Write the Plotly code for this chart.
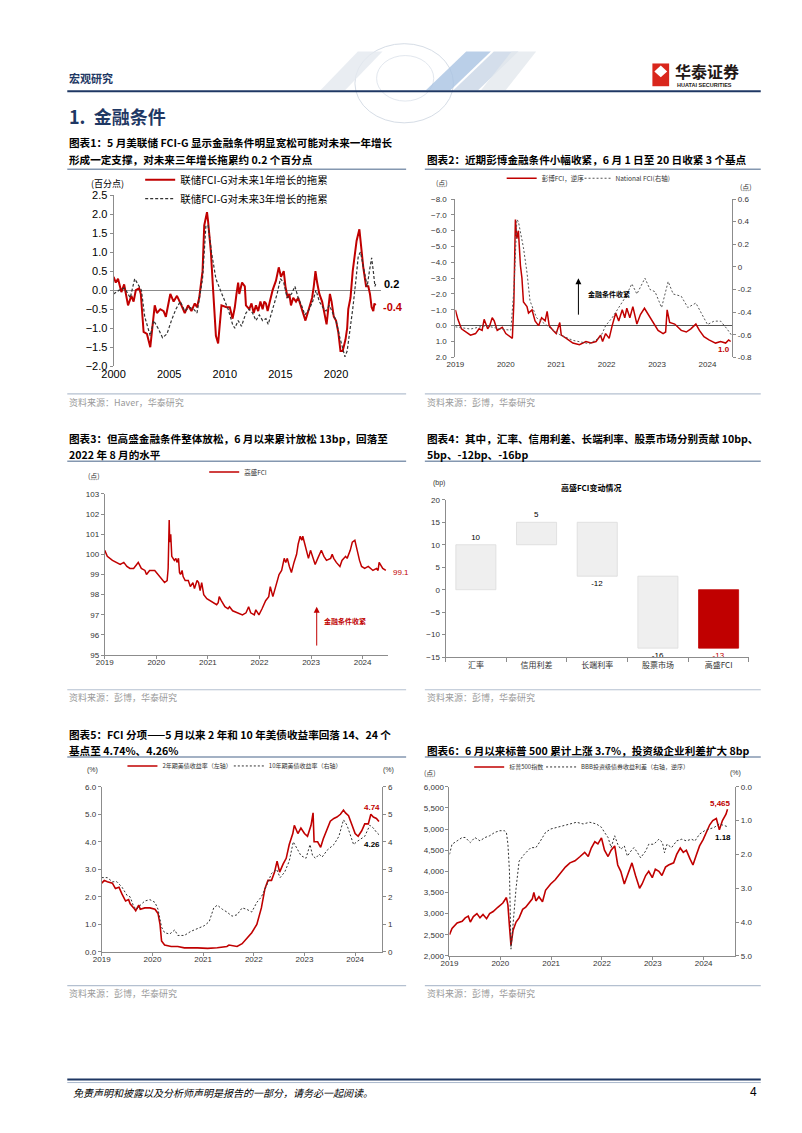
import plotly.graph_objects as go

W, H = 802, 1133
def px(x): return x / W
def py(y): return 1 - y / H

FONT = "Arial, Liberation Sans, Noto Sans CJK SC, sans-serif"
CJK = "Noto Sans CJK SC, Arial, sans-serif"
RED = "#c00000"
NAVY = "#1f3864"
GRAY_AX = "#8c8c8c"

# ---------------- data ----------------
# Chart 1: Fed FCI-G drag on growth (percentage points)
fcig_1y = [(2000.0, 0.35), (2000.2, 0.2), (2000.4, 0.3), (2000.7, -0.05), (2000.95, 0.15), (2001.3, -0.4),
           (2001.6, -0.15), (2001.8, -0.3), (2002.0, 0.0), (2002.3, 0.05), (2002.45, -0.1), (2002.7, -1.1),
           (2003.0, -1.15), (2003.15, -1.3), (2003.3, -1.5), (2003.7, -0.4), (2003.9, -0.6), (2004.2, -0.5),
           (2004.5, -0.55), (2004.7, -0.7), (2004.85, -0.5), (2005.1, -0.1), (2005.4, -0.3), (2005.7, -0.15),
           (2006.1, -0.4), (2006.4, -0.6), (2006.7, -0.4), (2007.0, -0.55), (2007.3, -0.35), (2007.5, -0.45),
           (2007.7, -0.2), (2008.0, 0.5), (2008.15, 1.7), (2008.4, 2.05), (2008.5, 1.8), (2008.75, 1.0),
           (2008.95, 0.0), (2009.1, -0.9), (2009.2, -1.2), (2009.4, -1.4), (2009.55, -0.8), (2009.7, -0.4),
           (2010.15, -0.45), (2010.45, -0.45), (2010.7, -0.75), (2010.9, -0.45), (2011.05, -0.1), (2011.2, 0.2),
           (2011.3, -0.1), (2011.55, 0.2), (2011.8, 0.1), (2011.9, -0.4), (2012.2, -0.5), (2012.4, -0.35),
           (2012.6, -0.6), (2012.8, -0.4), (2013.0, -0.55), (2013.2, -0.3), (2013.4, -0.5), (2013.55, -0.3),
           (2013.7, -0.35), (2013.85, -0.55), (2014.05, -0.3), (2014.3, 0.0), (2014.6, 0.25), (2014.85, 0.6),
           (2015.05, 0.35), (2015.3, 0.5), (2015.45, 0.1), (2015.65, -0.2), (2015.8, -0.1), (2015.95, -0.4),
           (2016.15, -0.2), (2016.4, -0.3), (2016.6, -0.2), (2016.8, -0.4), (2017.1, -0.7), (2017.25, -0.8),
           (2017.55, -0.5), (2017.85, -0.2), (2018.0, 0.1), (2018.15, 0.5), (2018.3, 0.2), (2018.5, -0.1),
           (2018.75, -0.3), (2018.9, -0.5), (2019.15, -0.9), (2019.3, -0.5), (2019.45, -0.1), (2019.6, -0.3),
           (2019.8, -0.7), (2020.0, -0.8), (2020.2, -1.1), (2020.4, -1.6), (2020.6, -1.6), (2020.85, -1.3),
           (2021.0, -1.0), (2021.1, -0.5), (2021.3, -0.2), (2021.5, 0.5), (2021.65, 0.9), (2021.85, 1.3),
           (2022.1, 1.6), (2022.3, 0.9), (2022.45, 0.6), (2022.7, 0.1), (2022.9, 0.1), (2023.05, -0.1),
           (2023.2, -0.45), (2023.35, -0.55), (2023.45, -0.35), (2023.55, -0.4)]
fcig_3y = [(2000.0, -0.1), (2000.5, 0.0), (2001.0, 0.05), (2001.5, -0.2), (2001.9, 0.3), (2002.5, 0.0),
           (2002.8, -0.7), (2003.1, -1.0), (2003.3, -1.2), (2003.6, -0.8), (2004.0, -1.0), (2004.4, -1.25),
           (2004.8, -1.15), (2005.2, -0.8), (2005.6, -0.5), (2006.0, -0.3), (2006.4, -0.55), (2006.8, -0.45),
           (2007.2, -0.5), (2007.5, -0.6), (2007.7, -0.2), (2008.0, 0.3), (2008.3, 1.7), (2008.5, 1.7),
           (2008.8, 1.0), (2009.2, 0.3), (2009.6, 0.0), (2009.9, -0.2), (2010.3, -0.5), (2010.7, -0.9),
           (2010.9, -1.0), (2011.2, -0.8), (2011.5, -0.95), (2011.9, -0.6), (2012.2, -0.5), (2012.5, -0.6),
           (2012.8, -0.8), (2013.1, -0.65), (2013.4, -0.8), (2013.7, -0.75), (2013.9, -0.9), (2014.3, -0.5),
           (2014.7, -0.1), (2015.0, 0.3), (2015.3, 0.2), (2015.6, -0.2), (2016.0, -0.1), (2016.3, 0.1),
           (2016.6, -0.2), (2016.9, -0.4), (2017.2, -0.65), (2017.6, -0.5), (2017.9, -0.3), (2018.2, 0.0),
           (2018.5, -0.3), (2018.8, -0.45), (2019.1, -0.55), (2019.4, -0.4), (2019.7, -0.6), (2020.0, -0.8),
           (2020.3, -1.2), (2020.6, -1.5), (2020.8, -1.75), (2021.0, -1.6), (2021.2, -1.2), (2021.5, -0.5),
           (2021.8, 0.3), (2022.0, 0.9), (2022.2, 1.0), (2022.4, 0.7), (2022.6, 0.5), (2022.8, 0.1),
           (2023.0, 0.5), (2023.2, 0.85), (2023.35, 0.5), (2023.5, 0.1), (2023.6, 0.2)]
c1_years = [2000, 2005, 2010, 2015, 2020]

# Chart 2: Bloomberg FCI (inverted, left) and National FCI (right)
bbg_fci = [(2019.0, -1.0), (2019.05, -0.4), (2019.12, 0.2), (2019.2, 0.4), (2019.3, 0.6), (2019.4, 0.5),
           (2019.47, 0.2), (2019.53, 0.3), (2019.57, -0.4), (2019.64, 0.2), (2019.68, 0.0), (2019.73, -0.5),
           (2019.77, -0.3), (2019.83, 0.3), (2019.93, 0.1), (2020.0, 0.5), (2020.09, 0.7), (2020.13, 0.8),
           (2020.16, -1.5), (2020.19, -6.7), (2020.22, -5.5), (2020.25, -6.0), (2020.29, -3.8), (2020.32, -3.0),
           (2020.35, -1.5), (2020.42, -1.2), (2020.45, -0.8), (2020.52, -1.0), (2020.58, -0.3), (2020.65, 0.0),
           (2020.71, -0.5), (2020.78, -0.3), (2020.82, -0.9), (2020.86, 0.0), (2020.94, 0.3), (2021.0, 0.5),
           (2021.07, -0.2), (2021.1, 0.6), (2021.2, 0.8), (2021.33, 1.1), (2021.46, 1.2), (2021.59, 1.0),
           (2021.69, 1.1), (2021.79, 1.0), (2021.88, 0.6), (2021.92, 1.0), (2021.98, 0.5), (2022.05, 0.8),
           (2022.11, 0.0), (2022.18, -0.8), (2022.24, -0.3), (2022.31, -1.0), (2022.36, -0.5), (2022.4, -1.1),
           (2022.46, -0.5), (2022.52, -1.2), (2022.6, -0.1), (2022.67, -0.7), (2022.75, -1.1), (2022.83, -0.7),
           (2022.93, -0.2), (2023.02, 0.3), (2023.12, 0.5), (2023.17, 0.4), (2023.2, -1.0), (2023.25, -0.2),
           (2023.35, -0.1), (2023.48, 0.3), (2023.58, 0.4), (2023.67, 0.2), (2023.77, -0.1), (2023.84, 0.3),
           (2023.93, 0.7), (2024.03, 0.9), (2024.16, 1.1), (2024.26, 1.0), (2024.36, 1.1), (2024.42, 0.9),
           (2024.46, 1.0)]
national_fci = [(2019.0, -0.53), (2019.3, -0.55), (2019.6, -0.52), (2019.9, -0.55), (2020.1, -0.56),
                (2020.16, -0.2), (2020.22, 0.42), (2020.25, 0.4), (2020.35, 0.17), (2020.42, -0.05),
                (2020.48, -0.3), (2020.61, -0.45), (2020.88, -0.54), (2021.07, -0.6), (2021.33, -0.65),
                (2021.66, -0.68), (2021.88, -0.62), (2021.98, -0.52), (2022.11, -0.45), (2022.24, -0.36),
                (2022.37, -0.27), (2022.5, -0.15), (2022.6, -0.24), (2022.76, -0.1), (2022.86, -0.2),
                (2022.96, -0.22), (2023.09, -0.36), (2023.22, -0.13), (2023.32, -0.24), (2023.48, -0.26),
                (2023.61, -0.36), (2023.77, -0.32), (2023.87, -0.4), (2024.0, -0.51), (2024.13, -0.48),
                (2024.26, -0.48), (2024.39, -0.55), (2024.47, -0.6)]
nfci_ticks = [0.6, 0.4, 0.2, 0, -0.2, -0.4, -0.6, -0.8]
years_19_24 = [2019, 2020, 2021, 2022, 2023, 2024]

# Chart 3: Goldman Sachs FCI
gs_fci = [(2019.0, 100.2), (2019.05, 99.9), (2019.15, 99.7), (2019.24, 99.6), (2019.3, 99.5), (2019.37, 99.6),
          (2019.43, 99.4), (2019.49, 99.3), (2019.56, 99.3), (2019.62, 99.5), (2019.65, 99.6), (2019.71, 99.3),
          (2019.78, 99.2), (2019.81, 99.0), (2019.87, 99.2), (2019.97, 99.2), (2020.03, 99.0), (2020.09, 98.8),
          (2020.16, 98.6), (2020.21, 98.7), (2020.23, 99.3), (2020.25, 101.7), (2020.26, 100.6), (2020.28, 101.0),
          (2020.3, 99.9), (2020.35, 99.7), (2020.38, 99.8), (2020.4, 99.6), (2020.43, 99.8), (2020.45, 99.1),
          (2020.47, 99.0), (2020.5, 99.2), (2020.52, 98.9), (2020.56, 98.7), (2020.62, 98.7), (2020.66, 98.4),
          (2020.71, 98.6), (2020.74, 98.3), (2020.79, 98.7), (2020.82, 98.6), (2020.85, 98.2), (2020.88, 98.6),
          (2020.92, 98.0), (2020.98, 97.8), (2021.04, 97.7), (2021.1, 97.6), (2021.17, 97.5), (2021.2, 97.6),
          (2021.22, 97.9), (2021.26, 97.7), (2021.33, 97.4), (2021.39, 97.3), (2021.42, 97.4), (2021.48, 97.2),
          (2021.58, 97.1), (2021.67, 97.0), (2021.74, 97.1), (2021.79, 97.4), (2021.83, 97.1), (2021.9, 97.0),
          (2021.93, 97.25), (2021.99, 97.0), (2022.05, 97.3), (2022.12, 97.7), (2022.18, 97.9), (2022.21, 98.4),
          (2022.26, 97.9), (2022.34, 98.6), (2022.38, 99.0), (2022.43, 99.2), (2022.48, 99.8), (2022.51, 99.6),
          (2022.54, 99.8), (2022.58, 99.4), (2022.62, 99.1), (2022.67, 99.6), (2022.72, 100.0), (2022.75, 100.5),
          (2022.79, 100.9), (2022.82, 100.7), (2022.84, 100.9), (2022.87, 100.6), (2022.92, 100.0), (2022.95, 99.8),
          (2022.99, 100.2), (2023.03, 99.9), (2023.08, 99.5), (2023.13, 99.8), (2023.18, 100.1), (2023.2, 100.2),
          (2023.25, 99.9), (2023.3, 99.7), (2023.38, 99.8), (2023.41, 100.0), (2023.44, 99.8), (2023.49, 99.6),
          (2023.56, 99.4), (2023.6, 99.7), (2023.67, 99.9), (2023.7, 99.8), (2023.76, 100.2), (2023.8, 100.6),
          (2023.85, 100.7), (2023.89, 100.2), (2023.94, 99.7), (2023.98, 99.4), (2024.04, 99.3), (2024.11, 99.4),
          (2024.2, 99.2), (2024.27, 99.3), (2024.3, 99.2), (2024.32, 99.6), (2024.36, 99.4), (2024.39, 99.3),
          (2024.45, 99.2)]

# Chart 4: GS FCI change decomposition (bp)
fci_cats = ["汇率", "信用利差", "长端利率", "股票市场", "高盛FCI"]
fci_contrib = [10, 5, -12, -16]
fci_total = -13

# Chart 5: UST 2y / 10y yields (%)
ust_2y = [(2019.0, 2.5), (2019.05, 2.6), (2019.11, 2.55), (2019.21, 2.5), (2019.27, 2.3), (2019.34, 2.35),
          (2019.4, 2.1), (2019.47, 1.85), (2019.53, 1.9), (2019.56, 1.75), (2019.63, 1.6), (2019.67, 1.5),
          (2019.73, 1.7), (2019.76, 1.55), (2019.85, 1.6), (2019.95, 1.6), (2020.05, 1.55), (2020.11, 1.4),
          (2020.15, 1.0), (2020.18, 0.4), (2020.24, 0.25), (2020.37, 0.2), (2020.5, 0.2), (2020.63, 0.15),
          (2020.89, 0.15), (2021.09, 0.13), (2021.28, 0.15), (2021.47, 0.2), (2021.51, 0.25), (2021.67, 0.2),
          (2021.77, 0.3), (2021.86, 0.5), (2021.96, 0.7), (2022.06, 1.0), (2022.12, 1.4), (2022.15, 1.6),
          (2022.22, 2.3), (2022.28, 2.6), (2022.35, 2.6), (2022.41, 2.9), (2022.46, 3.3), (2022.51, 2.9),
          (2022.58, 3.2), (2022.64, 3.4), (2022.7, 3.9), (2022.77, 4.3), (2022.8, 4.6), (2022.87, 4.3),
          (2022.93, 4.5), (2023.0, 4.3), (2023.06, 4.2), (2023.13, 4.6), (2023.17, 5.05), (2023.19, 4.0),
          (2023.26, 4.0), (2023.32, 3.8), (2023.37, 4.1), (2023.45, 4.5), (2023.51, 4.75), (2023.58, 4.85),
          (2023.64, 4.9), (2023.71, 5.0), (2023.77, 5.15), (2023.81, 5.05), (2023.87, 4.95), (2023.94, 4.6),
          (2024.0, 4.3), (2024.06, 4.2), (2024.13, 4.4), (2024.19, 4.65), (2024.26, 4.65), (2024.31, 5.0),
          (2024.36, 4.9), (2024.42, 4.85), (2024.47, 4.74)]
ust_10y = [(2019.0, 2.7), (2019.11, 2.7), (2019.21, 2.55), (2019.3, 2.55), (2019.4, 2.35), (2019.5, 2.05),
           (2019.56, 2.0), (2019.63, 1.65), (2019.69, 1.55), (2019.76, 1.7), (2019.85, 1.85), (2019.95, 1.9),
           (2020.05, 1.8), (2020.11, 1.55), (2020.18, 0.9), (2020.24, 0.7), (2020.34, 0.65), (2020.44, 0.8),
           (2020.5, 0.6), (2020.63, 0.6), (2020.76, 0.75), (2020.89, 0.85), (2021.02, 0.95), (2021.12, 1.1),
           (2021.21, 1.6), (2021.28, 1.7), (2021.38, 1.55), (2021.47, 1.45), (2021.57, 1.3), (2021.67, 1.35),
           (2021.77, 1.6), (2021.86, 1.55), (2021.96, 1.45), (2022.06, 1.8), (2022.15, 2.0), (2022.25, 2.4),
           (2022.35, 2.85), (2022.45, 3.0), (2022.52, 2.7), (2022.61, 2.9), (2022.7, 3.3), (2022.78, 4.0),
           (2022.87, 3.7), (2022.93, 3.5), (2023.03, 3.4), (2023.11, 3.9), (2023.16, 3.5), (2023.22, 3.4),
           (2023.29, 3.55), (2023.35, 3.45), (2023.45, 3.7), (2023.58, 3.9), (2023.68, 4.2), (2023.77, 4.8),
           (2023.84, 4.6), (2023.9, 4.3), (2023.97, 3.9), (2024.03, 4.0), (2024.1, 4.1), (2024.19, 4.2),
           (2024.29, 4.6), (2024.36, 4.5), (2024.42, 4.35), (2024.47, 4.26)]

# Chart 6: S&P 500 (left) and BBB spread (right, inverted)
spx = [(2019.0, 2500), (2019.05, 2650), (2019.15, 2780), (2019.25, 2820), (2019.31, 2900), (2019.37, 2940),
       (2019.41, 2800), (2019.47, 2930), (2019.54, 3000), (2019.6, 2900), (2019.66, 2980), (2019.73, 2880),
       (2019.79, 3000), (2019.86, 3050), (2019.95, 3150), (2020.05, 3250), (2020.12, 3380), (2020.15, 3200),
       (2020.18, 2700), (2020.21, 2250), (2020.25, 2600), (2020.31, 2800), (2020.37, 2900), (2020.44, 3100),
       (2020.5, 3150), (2020.57, 3250), (2020.63, 3350), (2020.66, 3500), (2020.7, 3300), (2020.76, 3400),
       (2020.83, 3280), (2020.89, 3550), (2020.99, 3700), (2021.08, 3800), (2021.18, 3950), (2021.28, 4100),
       (2021.37, 4200), (2021.47, 4250), (2021.57, 4350), (2021.66, 4450), (2021.73, 4350), (2021.79, 4550),
       (2021.86, 4700), (2021.92, 4650), (2021.99, 4790), (2022.05, 4500), (2022.12, 4350), (2022.18, 4500),
       (2022.25, 4600), (2022.31, 4150), (2022.37, 4000), (2022.44, 3700), (2022.5, 3900), (2022.59, 4200),
       (2022.66, 3900), (2022.74, 3600), (2022.79, 3700), (2022.86, 3900), (2022.92, 4000), (2022.99, 3850),
       (2023.05, 4050), (2023.12, 4000), (2023.18, 3900), (2023.25, 4100), (2023.31, 4150), (2023.41, 4200),
       (2023.47, 4400), (2023.54, 4550), (2023.6, 4450), (2023.66, 4500), (2023.73, 4300), (2023.79, 4150),
       (2023.86, 4400), (2023.92, 4600), (2023.99, 4750), (2024.05, 4900), (2024.12, 5100), (2024.18, 5200),
       (2024.25, 5250), (2024.31, 4980), (2024.37, 5200), (2024.44, 5350), (2024.47, 5465)]
bbb_spread = [(2019.0, 2.0), (2019.05, 1.7), (2019.15, 1.6), (2019.25, 1.5), (2019.31, 1.5), (2019.41, 1.65),
              (2019.5, 1.5), (2019.6, 1.6), (2019.7, 1.5), (2019.79, 1.45), (2019.89, 1.35), (2019.99, 1.3),
              (2020.08, 1.3), (2020.12, 1.35), (2020.15, 1.7), (2020.18, 2.5), (2020.21, 4.8), (2020.26, 3.8),
              (2020.31, 3.0), (2020.37, 2.2), (2020.47, 2.0), (2020.6, 1.8), (2020.7, 1.8), (2020.79, 1.6),
              (2020.89, 1.35), (2020.99, 1.25), (2021.12, 1.2), (2021.25, 1.15), (2021.37, 1.1), (2021.5, 1.05),
              (2021.63, 1.1), (2021.76, 1.05), (2021.89, 1.1), (2021.99, 1.2), (2022.05, 1.35), (2022.12, 1.5),
              (2022.18, 1.8), (2022.25, 1.45), (2022.31, 1.7), (2022.37, 1.85), (2022.44, 1.75), (2022.5, 2.05),
              (2022.57, 1.9), (2022.63, 1.8), (2022.7, 1.95), (2022.76, 2.1), (2022.86, 1.9), (2022.92, 1.7),
              (2023.02, 1.7), (2023.12, 1.55), (2023.19, 1.65), (2023.23, 1.95), (2023.28, 1.7), (2023.37, 1.8),
              (2023.47, 1.6), (2023.57, 1.55), (2023.66, 1.6), (2023.76, 1.55), (2023.83, 1.6), (2023.92, 1.4),
              (2024.02, 1.3), (2024.12, 1.25), (2024.21, 1.2), (2024.31, 1.1), (2024.41, 1.15), (2024.47, 1.18)]


def xs(s): return [p[0] for p in s]
def ys(s): return [p[1] for p in s]


fig = go.Figure()

# ---- chart 1
fig.add_trace(go.Scatter(x=xs(fcig_1y), y=ys(fcig_1y), mode="lines", name="联储FCI-G对未来1年增长的拖累",
                         line=dict(color=RED, width=2), xaxis="x", yaxis="y", legend="legend"))
fig.add_trace(go.Scatter(x=xs(fcig_3y), y=ys(fcig_3y), mode="lines", name="联储FCI-G对未来3年增长的拖累",
                         line=dict(color="#333333", width=1.2, dash="3px,2px"), xaxis="x", yaxis="y", legend="legend"))
# ---- chart 2
fig.add_trace(go.Scatter(x=xs(bbg_fci), y=ys(bbg_fci), mode="lines", name="彭博FCI，逆序",
                         line=dict(color=RED, width=1.5), xaxis="x2", yaxis="y2", legend="legend2"))
fig.add_trace(go.Scatter(x=xs(national_fci), y=ys(national_fci), mode="lines", name="National FCI(右轴)",
                         line=dict(color="#555555", width=1, dash="2px,2px"), xaxis="x2", yaxis="y3", legend="legend4"))
# ---- chart 3
fig.add_trace(go.Scatter(x=xs(gs_fci), y=ys(gs_fci), mode="lines", name="高盛FCI",
                         line=dict(color=RED, width=1.5), xaxis="x3", yaxis="y4", legend="legend3"))
# ---- chart 4 (waterfall via bases)
bases = []
run = 0
for v in fci_contrib:
    bases.append(run)
    run += v
bases.append(0)
heights = fci_contrib + [fci_total]
fig.add_trace(go.Bar(x=fci_cats, y=heights, base=bases, width=0.66,
                     marker=dict(color=["#efefef"] * 4 + [RED], line=dict(color=["#dcdcdc"] * 4 + [RED], width=0.8)),
                     text=[str(v) for v in heights], textposition="outside", cliponaxis=False,
                     textfont=dict(size=8, color=["#000"] * 4 + [RED], family="Arial Black, Arial, sans-serif"),
                     xaxis="x4", yaxis="y5", showlegend=False))
# ---- chart 5
fig.add_trace(go.Scatter(x=xs(ust_2y), y=ys(ust_2y), mode="lines", name="2年期美债收益率（左轴）",
                         line=dict(color=RED, width=1.6), xaxis="x5", yaxis="y6", legend="legend5"))
fig.add_trace(go.Scatter(x=xs(ust_10y), y=ys(ust_10y), mode="lines", name="10年期美债收益率（右轴）",
                         line=dict(color="#333333", width=1, dash="2px,2px"), xaxis="x5", yaxis="y7", legend="legend7"))
# ---- chart 6
fig.add_trace(go.Scatter(x=xs(spx), y=ys(spx), mode="lines", name="标普500指数",
                         line=dict(color=RED, width=1.6), xaxis="x6", yaxis="y8", legend="legend6"))
fig.add_trace(go.Scatter(x=xs(bbb_spread), y=ys(bbb_spread), mode="lines", name="BBB投资级债券收益利差（右轴，逆序）",
                         line=dict(color="#333333", width=1, dash="2px,2px"), xaxis="x6", yaxis="y9", legend="legend8"))

# ---------------- axes ----------------
small = dict(size=8, color="#333333", family=FONT)
axbase = dict(showgrid=False, zeroline=False, linecolor=GRAY_AX, tickcolor=GRAY_AX, ticklen=3, fixedrange=True)


def taxis(x0, x1, rng, anchor, vals, showline=True, font=small, standoff=-4):
    d = dict(axbase, domain=[px(x0), px(x1)], range=rng, anchor=anchor, tickvals=vals,
             ticktext=[str(v) for v in vals], tickfont=font, showline=showline,
             ticks="outside" if showline else "", ticklabelstandoff=standoff)
    return d


def hleg(x, y, size):
    return dict(x=px(x), y=py(y), xanchor="left", yanchor="middle", orientation="h", bgcolor="rgba(0,0,0,0)",
                font=dict(size=size, family=CJK, color="#333"))


layout = dict(
    width=W, height=H, margin=dict(l=0, r=0, t=0, b=0), paper_bgcolor="white", plot_bgcolor="rgba(0,0,0,0)",
    font=dict(family=FONT), showlegend=True,
    xaxis=taxis(95, 366, [2000, 2024], "y", c1_years, showline=False, font=dict(size=11, color="#000"), standoff=0),
    yaxis=dict(axbase, domain=[py(356), py(183)], range=[-2, 2.5], dtick=0.5, tick0=0, tickformat=".1f",
               anchor="x", showline=True, ticks="outside", tickfont=dict(size=11, color="#000"),
               zeroline=True, zerolinecolor=GRAY_AX, zerolinewidth=1),
    xaxis2=taxis(442, 723, [2019, 2024.49], "y2", years_19_24, showline=False, standoff=1),
    yaxis2=dict(axbase, domain=[py(347), py(187)], range=[2, -8], dtick=1, tickformat=".1f", anchor="x2",
                showline=True, ticks="outside", tickfont=small, zeroline=True, zerolinecolor="#555", zerolinewidth=1,
                ticklabelstandoff=3),
    yaxis3=dict(axbase, overlaying="y2", side="right", anchor="x2", range=[-0.8, 0.6], tickvals=nfci_ticks,
                ticktext=[("0" if v == 0 else f"{v:.1f}") for v in nfci_ticks], showline=True, ticks="outside",
                tickfont=small),
    xaxis3=taxis(86, 374, [2019, 2024.5], "y4", years_19_24),
    yaxis4=dict(axbase, domain=[py(648), py(485)], range=[95, 103], dtick=1, anchor="x3", showline=True,
                ticks="outside", tickfont=small),
    xaxis4=dict(axbase, domain=[px(432), px(740)], type="category", anchor="y5", showline=True, ticks="outside",
                tickson="boundaries", ticklen=4, tickfont=dict(size=8, color="#333", family=CJK)),
    yaxis5=dict(axbase, domain=[py(650), py(491)], range=[-15, 20], dtick=5, anchor="x4", showline=True,
                ticks="outside", tickfont=small),
    xaxis5=taxis(83, 368, [2019, 2024.54], "y6", years_19_24),
    yaxis6=dict(axbase, domain=[py(948), py(781)], range=[0, 6], dtick=1, tickformat=".1f", anchor="x5",
                showline=True, ticks="outside", tickfont=small),
    yaxis7=dict(axbase, overlaying="y6", side="right", anchor="x5", range=[0, 6], dtick=1, tickformat="d",
                showline=True, ticks="outside", tickfont=small),
    xaxis6=taxis(436, 726, [2019, 2024.62], "y8", years_19_24),
    yaxis8=dict(axbase, domain=[py(952), py(781)], range=[2000, 6000], dtick=500, tickformat=",d", anchor="x6",
                showline=True, ticks="outside", tickfont=small),
    yaxis9=dict(axbase, overlaying="y8", side="right", anchor="x6", range=[5, 0], dtick=1, tickformat=".1f",
                showline=True, ticks="outside", tickfont=small),
    legend=dict(x=px(122), y=py(177), xanchor="left", yanchor="middle", orientation="v", bgcolor="rgba(0,0,0,0)",
                font=dict(size=10.5, family=CJK, color="#000"), tracegroupgap=0, itemwidth=30),
    legend2=hleg(489, 166, 6.5),
    legend4=hleg(564, 166, 6.5),
    legend3=hleg(187, 463, 6.5),
    legend5=hleg(104, 760, 6),
    legend7=hleg(212, 760, 6),
    legend6=hleg(456, 761, 6),
    legend8=hleg(529, 761, 6),
)
fig.update_layout(**layout)

# ---------------- annotations & shapes ----------------
ann = []
shapes = []


def text(x, y, s, size=10, color="#000", anchor="left", family=CJK, bold=False, italic=False):
    t = s
    if bold:
        t = f"<b>{t}</b>"
    if italic:
        t = f"<i>{t}</i>"
    ann.append(dict(x=px(x), y=py(y), xref="paper", yref="paper", text=t, showarrow=False, xanchor=anchor,
                    yanchor="middle", font=dict(size=size, color=color, family=family)))


def hline(x0, x1, y, color, width):
    shapes.append(dict(type="line", xref="paper", yref="paper", x0=px(x0), x1=px(x1), y0=py(y), y1=py(y),
                       line=dict(color=color, width=width)))


# header
text(48, 65, "宏观研究", size=11, color=NAVY, bold=True)
hline(48, 752, 78, NAVY, 2)
# decorative header graphic (light)
shapes.append(dict(type="circle", xref="paper", yref="paper", x0=px(340), x1=px(440), y0=py(110), y1=py(30),
                   line=dict(color="#d6dde6", width=1), layer="below"))
shapes.append(dict(type="circle", xref="paper", yref="paper", x0=px(362), x1=px(420), y0=py(88), y1=py(42),
                   line=dict(color="#e2e7ee", width=1), layer="below"))
for (a, b, c, d, col) in [(305, 330, 368, 343, "#e3e8ef"), (412, 437, 478, 453, "#a9c3e2"),
                          (440, 465, 506, 481, "#c9d6e6"), (468, 493, 524, 499, "#e4e8ee")]:
    shapes.append(dict(type="path", xref="paper", yref="paper",
                       path=f"M {px(a)},{py(77)} L {px(b)},{py(77)} L {px(c)},{py(38)} L {px(d)},{py(38)} Z",
                       fillcolor=col, line=dict(width=0), opacity=0.8, layer="below"))
# logo
shapes.append(dict(type="rect", xref="paper", yref="paper", x0=px(642), x1=px(659), y0=py(73), y1=py(50),
                   fillcolor="#d9261c", line=dict(width=0)))
shapes.append(dict(type="path", xref="paper", yref="paper",
                   path=f"M {px(650.5)},{py(52)} L {px(657)},{py(58)} L {px(650.5)},{py(64)} L {px(644)},{py(58)} Z",
                   fillcolor="white", line=dict(width=0)))
text(663, 58, "华泰证券", size=16, color="#231815", bold=True)
text(665, 72, "HUATAI SECURITIES", size=5.5, color="#231815", family="Arial, sans-serif", bold=True)

# section heading
text(48, 103, "1.  金融条件", size=18, color=NAVY, bold=True)

# chart titles
TS = 10.6
text(48, 130, "图表1：5 月美联储 FCI-G 显示金融条件明显宽松可能对未来一年增长", size=TS, bold=True)
text(48, 147, "形成一定支撑，对未来三年增长拖累约 0.2 个百分点", size=TS, bold=True)
hline(48, 392, 157, "#8497b0", 1.5)
text(411, 147, "图表2：近期彭博金融条件小幅收紧，6 月 1 日至 20 日收紧 3 个基点", size=TS, bold=True)
hline(411, 752, 157, "#8497b0", 1.5)

text(48, 429, "图表3：但高盛金融条件整体放松，6 月以来累计放松 13bp，回落至", size=TS, bold=True)
text(48, 445, "2022 年 8 月的水平", size=TS, bold=True)
hline(48, 392, 452, "#8497b0", 1.5)
text(411, 429, "图表4：其中，汇率、信用利差、长端利率、股票市场分别贡献 10bp、", size=TS, bold=True)
text(411, 445, "5bp、-12bp、-16bp", size=TS, bold=True)
hline(411, 752, 452, "#8497b0", 1.5)

text(48, 728, "图表5：FCI 分项——5 月以来 2 年和 10 年美债收益率回落 14、24 个", size=TS, bold=True)
text(48, 744, "基点至 4.74%、4.26%", size=TS, bold=True)
hline(48, 392, 751, "#8497b0", 1.5)
text(411, 744, "图表6：6 月以来标普 500 累计上涨 3.7%，投资级企业利差扩大 8bp", size=TS, bold=True)
hline(411, 752, 751, "#8497b0", 1.5)

# sources
for (x0, x1, yl, yt, s) in [(48, 392, 384, 393, "资料来源：Haver，华泰研究"),
                            (411, 752, 384, 393, "资料来源：彭博，华泰研究"),
                            (48, 392, 683, 691, "资料来源：彭博，华泰研究"),
                            (411, 752, 683, 691, "资料来源：彭博，华泰研究"),
                            (48, 392, 982, 990, "资料来源：彭博，华泰研究"),
                            (411, 752, 982, 990, "资料来源：彭博，华泰研究")]:
    hline(x0, x1, yl, "#b4c0d0", 1.2)
    text(x0, yt, s, size=9, color="#9a9a9a")

# unit labels
text(70, 171, "(百分点)", size=9, color="#000")
text(420, 171, "(点)", size=7, color="#333")
text(729, 175, "(点)", size=7, color="#333")
text(67, 467, "(点)", size=7, color="#333")
text(417, 474, "(bp)", size=7, color="#333", family=FONT)
text(66, 764, "(%)", size=7, color="#333", family=FONT)
text(366, 764, "(%)", size=7, color="#333", family=FONT)
text(408, 767, "(点)", size=7, color="#333")
text(719, 767, "(%)", size=7, color="#333", family=FONT)

# end-value labels
text(368, 273, "0.2", size=11, color="#000", family=FONT, bold=True)
text(366, 296, "-0.4", size=11, color=RED, family=FONT, bold=True)
text(707, 339, "1.0", size=8, color=RED, family=FONT, bold=True)
text(377, 564, "99.1", size=8, color=RED, family=FONT)
text(367, 802, "4.74", size=8, color=RED, family=FONT, bold=True, anchor="right")
text(367, 839, "4.26", size=8, color="#000", family=FONT, bold=True, anchor="right")
text(711, 798, "5,465", size=8, color=RED, family=FONT, bold=True, anchor="center")
text(714, 832, "1.18", size=8, color="#000", family=FONT, bold=True, anchor="center")

# chart 4 inner title
text(580, 479, "高盛FCI变动情况", size=8, color="#000", anchor="center", bold=True)

# arrows
ann.append(dict(x=2021.44, y=-3.0, ax=2021.44, ay=-0.6, xref="x2", yref="y2", axref="x2", ayref="y2",
                showarrow=True, arrowhead=2, arrowsize=1.2, arrowwidth=1, arrowcolor="#000", text=""))
text(575, 283, "金融条件收紧", size=7, color="#000", bold=True)
ann.append(dict(x=2023.11, y=97.4, ax=2023.11, ay=95.4, xref="x3", yref="y4", axref="x3", ayref="y4",
                showarrow=True, arrowhead=2, arrowsize=1.2, arrowwidth=1, arrowcolor=RED, text=""))
text(307, 614, "金融条件收紧", size=7, color=RED, bold=True)

# footer
hline(48, 752, 1077, NAVY, 2)
hline(48, 752, 1080, "#aab8cc", 1)
text(52, 1090, "免责声明和披露以及分析师声明是报告的一部分，请务必一起阅读。", size=10, color="#000", italic=True)
text(750, 1090, "4", size=12, color="#000", anchor="right", family=FONT)

fig.update_layout(annotations=ann, shapes=shapes)
fig.write_html("out.html")
